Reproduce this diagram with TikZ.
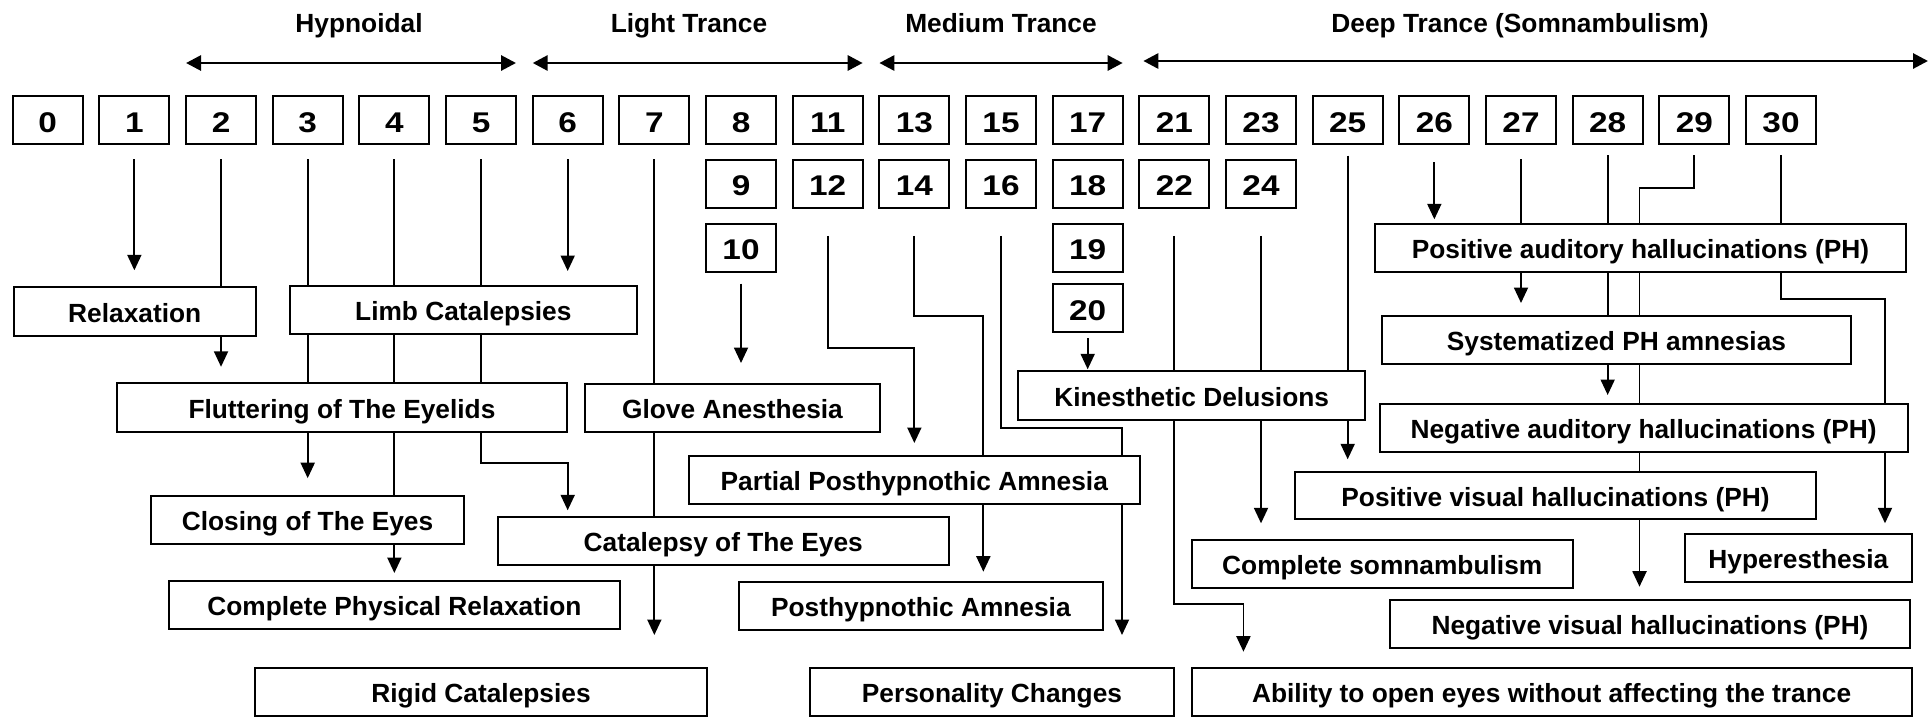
\documentclass[tikz,border=0pt]{standalone}
\usepackage{fontspec}
\setmainfont{Liberation Sans}
\newfontfamily\numfont{Liberation Sans}[FakeStretch=1.17]
\usetikzlibrary{arrows.meta,calc}
\pgfdeclarelayer{bg}
\pgfsetlayers{bg,main}
\begin{document}
\begin{tikzpicture}[x=1pt,y=-1pt,
  every node/.style={font=\fontsize{26.3}{30}\selectfont\bfseries},
  tbox/.style={draw, fill=white, line width=2pt, inner sep=0pt, outer sep=0pt,
    text height=21pt, text depth=0pt},
  numbox/.style={tbox, minimum width=70pt, minimum height=48pt, text height=24.6pt,
    font=\numfont\fontsize{28.5}{30}\selectfont\bfseries},
  conn/.style={line width=1.9pt, -{Triangle[length=15.5pt,width=14pt]}},
  stagearrow/.style={line width=2.9pt,
    {Triangle[length=15pt,width=15pt]}-{Triangle[length=15pt,width=15pt]}},
  stagelabel/.style={anchor=base}]

\useasboundingbox (0,0) rectangle (1931,716);

% scale of levels, first row
\foreach \lab [count=\i from 0] in {0,1,2,3,4,5,6,7,8,11,13,15,17,21,23,25,26,27,28,29,30}
  \node[numbox] (n\lab) at ({47.7+86.665*\i},120) {\lab};
% second, third and fourth rows
\foreach \lab/\c in {9/8,12/9,14/10,16/11,18/12,22/13,24/14}
  \node[numbox] (n\lab) at ({47.7+86.665*\c},183.5) {\lab};
\foreach \lab/\c in {10/8,19/12}
  \node[numbox] (n\lab) at ({47.7+86.665*\c},247.5) {\lab};
\node[numbox] (n20) at ({47.7+86.665*12},308.3) {20};

% stages
\node[stagelabel] (hyp) at (359,32.7) {Hypnoidal};
\node[stagelabel] (light) at (689,32.7) {Light Trance};
\node[stagelabel] (medium) at (1001,32.7) {Medium Trance};
\node[stagelabel] (deep) at (1520,32.7) {Deep Trance (Somnambulism)};
\coordinate (deepend) at (1928,61);

\draw[stagearrow] ($(n2.north west)+(0,-33)$) -- ($(n5.north east)+(0,-33)$);
\draw[stagearrow] ($(n6.north west)+(0,-33)$) -- ($(n11.north east)+(0,-33)$);
\draw[stagearrow] ($(n13.north west)+(0,-33)$) -- ($(n17.north east)+(0,-33)$);
\draw[stagearrow] ($(n21.north west)+(4,-35)$) -- (deepend);

% phenomena
\node[tbox, minimum width=242.5pt, minimum height=48.4pt] (relax) at (134.75,311.5) {Relaxation};
\node[tbox, minimum width=347.3pt, minimum height=48.3pt] (limb) at (463.35,310.15) {Limb Catalepsies};
\node[tbox, minimum width=450.9pt, minimum height=48.4pt] (flutter) at (341.95,407.5) {Fluttering of The Eyelids};
\node[tbox, minimum width=295pt, minimum height=48.3pt] (glove) at (732.5,408.15) {Glove Anesthesia};
\node[tbox, minimum width=313pt, minimum height=48.3pt] (closing) at (307.5,519.85) {Closing of The Eyes};
\node[tbox, minimum width=450.9pt, minimum height=48pt] (cateyes) at (723.25,541.3) {Catalepsy of The Eyes};
\node[tbox, minimum width=451.2pt, minimum height=48.3pt] (cpr) at (394.4,605.15) {Complete Physical Relaxation};
\node[tbox, minimum width=451.3pt, minimum height=47.8pt] (rigid) at (481.05,691.6) {Rigid Catalepsies};
\node[tbox, minimum width=450.9pt, minimum height=48pt] (ppa) at (914.25,480) {Partial Posthypnothic Amnesia};
\node[tbox, minimum width=364.2pt, minimum height=48.3pt] (pa) at (920.9,605.85) {Posthypnothic Amnesia};
\node[tbox, minimum width=364pt, minimum height=47.5pt] (pers) at (992,691.75) {Personality Changes};
\node[tbox, minimum width=346.7pt, minimum height=48.4pt] (kin) at (1191.65,395.5) {Kinesthetic Delusions};
\node[tbox, minimum width=381.5pt, minimum height=48pt] (cs) at (1382.25,564) {Complete somnambulism};
\node[tbox, minimum width=720.2pt, minimum height=47.2pt] (ability) at (1551.6,691.9) {Ability to open eyes without affecting the trance};
\node[tbox, minimum width=531pt, minimum height=48pt] (pah) at (1640.5,248) {Positive auditory hallucinations (PH)};
\node[tbox, minimum width=469pt, minimum height=48pt] (sys) at (1616.5,340) {Systematized PH amnesias};
\node[tbox, minimum width=528.1pt, minimum height=48pt] (nah) at (1643.65,428.3) {Negative auditory hallucinations (PH)};
\node[tbox, minimum width=521pt, minimum height=47.6pt] (pvh) at (1555.5,495.5) {Positive visual hallucinations (PH)};
\node[tbox, minimum width=226.7pt, minimum height=47.7pt] (hyper) at (1798.35,557.85) {Hyperesthesia};
\node[tbox, minimum width=520pt, minimum height=47.7pt] (nvh) at (1650,623.85) {Negative visual hallucinations (PH)};

% connectors run behind the boxes
\begin{pgfonlayer}{bg}
\draw[conn] ($(n1.south)+(0,15)$) -- ($(n1.south |- relax.north)+(0,-17)$);
\draw[conn] ($(n2.south)+(0,15)$) -- ($(n2.south |- flutter.north)+(0,-16.5)$);
\draw[conn] ($(n3.south)+(0,15)$) -- ($(n3.south |- closing.north)+(0,-17.5)$);
\draw[conn] ($(n4.south)+(0,15)$) -- ($(n4.south |- cpr.north)+(0,-8)$);
\draw[conn] ($(n5.south)+(0,15)$) |- ($(n6.south |- flutter.south)+(0,31)$)
  -- ($(n6.south |- cateyes.north)+(0,-7)$);
\draw[conn] ($(n6.south)+(0,15)$) -- ($(n6.south |- limb.north)+(0,-15)$);
\draw[conn] ($(n7.south)+(0,15)$) -- ($(n7.south |- rigid.north)+(0,-32.7)$);
\draw[conn] ($(n10.south)+(0,12)$) -- ($(n10.south |- glove.north)+(0,-21)$);
\draw[conn] ($(n12.south)+(0,28.3)$) |- ($(n14.south |- glove.north)+(0,-35.7)$)
  -- ($(n14.south |- ppa.north)+(0,-13)$);
\draw[conn] ($(n14.south)+(0,28.3)$) |- ($(n14.south)+(69,108.3)$)
  -- ($(n14.south |- pa.north)+(69,-10)$);
\draw[conn] ($(n16.south)+(0,28.3)$) |- ($(n16.south)+(121,220.8)$)
  -- ($(n16.south |- pers.north)+(121,-33)$);
\draw[conn] ($(n20.south)+(0,5.7)$) -- ($(n20.south |- kin.north)+(0,-2)$);
\draw[conn] ($(n22.south)+(0,28.3)$) |- ($(n22.south |- cs.south)+(69.1,16.3)$)
  -- ($(n22.south |- ability.north)+(69.1,-16.6)$);
\draw[conn] ($(n24.south)+(0,28.3)$) -- ($(n24.south |- cs.north)+(0,-16.7)$);
\draw[conn] ($(n25.south)+(0,11.7)$) -- ($(n25.south |- pvh.north)+(0,-12.4)$);
\draw[conn] ($(n26.south)+(0,18.3)$) -- ($(n26.south |- pah.north)+(0,-4.7)$);
\draw[conn] ($(n27.south)+(0,15.3)$) -- ($(n27.south |- sys.north)+(0,-13)$);
\draw[conn] ($(n28.south)+(0,11)$) -- ($(n28.south |- nah.north)+(0,-9.3)$);
\draw[conn] ($(n29.south)+(0,11)$) |- ($(pah.north)+(-1,-35.7)$)
  -- ($(pah.north |- nvh.north)+(-1,-13.3)$);
\draw[conn] ($(n30.south)+(0,11)$) |- ($(n30.south)+(104,155.3)$)
  -- ($(n30.south |- hyper.north)+(104,-10.7)$);
\end{pgfonlayer}
\end{tikzpicture}
\end{document}
